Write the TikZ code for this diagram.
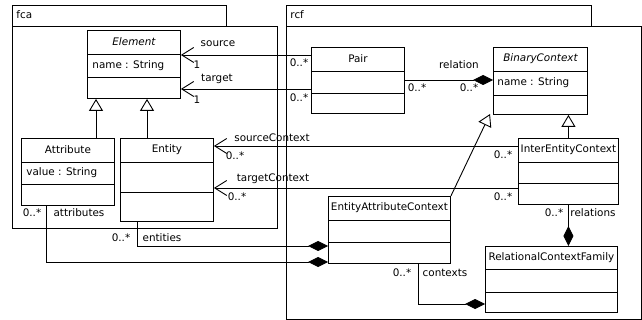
\documentclass[tikz,border=0pt]{standalone}
\usepackage{fontspec}
\setmainfont{DejaVu Sans}
\usetikzlibrary{positioning,calc,arrows.meta}

\tikzset{
  cls/.style={draw, fill=white, anchor=north west, inner sep=0pt},
  ctitle/.style={inner sep=0pt},
  cattr/.style={anchor=west, inner sep=0pt},
  lbl/.style={inner sep=0pt},
  nav/.style={-{Straight Barb[length=12pt,width=15pt]}},
  comp/.style={-{Diamond[length=20pt,width=10pt]}},
  gen/.style={-{Triangle[open,length=12pt,width=14pt,fill=white]}},
}

\begin{document}
\begin{tikzpicture}[x=1pt,y=-1pt,line width=0.9pt,font=\fontsize{10.4}{12}\selectfont]
        \useasboundingbox (0,0) rectangle (642,320);

        % packages
        \draw (12,5) rectangle (226,26);
        \draw (12,26) rectangle (277,228);
        \node[anchor=west, lbl] (fca) at (16,15) {fca};
        \draw (286,5) rectangle (591,26);
        \draw (286,26) rectangle (641,319);
        \node[anchor=west, lbl] (rcf) at (290,15) {rcf};

        % fca classes
        \node[cls, minimum width=93, minimum height=68] (element) at (87,30) {};
        \node[ctitle] at ($(element.north)+(0,12)$) {\itshape Element};
        \node[cattr] at ($(element.north west)+(5,35.5)$) {name : String};
        \draw ($(element.north west)+(0,24)$) -- ++(93,0) ($(element.north west)+(0,47)$) -- ++(93,0);

        \node[cls, minimum width=93, minimum height=67] (attribute) at (21,138) {};
        \node[ctitle] at ($(attribute.north)+(0,12)$) {Attribute};
        \node[cattr] at ($(attribute.north west)+(5,35)$) {value : String};
        \draw ($(attribute.north west)+(0,24)$) -- ++(93,0) ($(attribute.north west)+(0,46)$) -- ++(93,0);

        \node[cls, minimum width=93, minimum height=83] (entity) at (120,138) {};
        \node[ctitle] at ($(entity.north)+(0,12)$) {Entity};
        \draw ($(entity.north west)+(0,24)$) -- ++(93,0) ($(entity.north west)+(0,54)$) -- ++(93,0);

        % rcf classes
        \node[cls, minimum width=93, minimum height=66] (pair) at (311,47) {};
        \node[ctitle] at ($(pair.north)+(0,12)$) {Pair};
        \draw ($(pair.north west)+(0,24)$) -- ++(93,0) ($(pair.north west)+(0,46)$) -- ++(93,0);

        \node[cls, minimum width=94, minimum height=67] (binctx) at (493,47) {};
        \node[ctitle] at ($(binctx.north)+(0,12)$) {\itshape BinaryContext};
        \node[cattr] at ($(binctx.north west)+(4,36)$) {name : String};
        \draw ($(binctx.north west)+(0,24)$) -- ++(94,0) ($(binctx.north west)+(0,48)$) -- ++(94,0);

        \node[cls, minimum width=100, minimum height=66] (interctx) at (518,138) {};
        \node[ctitle] at ($(interctx.north)+(0,12)$) {InterEntityContext};
        \draw ($(interctx.north west)+(0,24)$) -- ++(100,0) ($(interctx.north west)+(0,45)$) -- ++(100,0);

        \node[cls, minimum width=122, minimum height=67] (eactx) at (328,196) {};
        \node[ctitle] at ($(eactx.north)+(0,12)$) {EntityAttributeContext};
        \draw ($(eactx.north west)+(0,24)$) -- ++(122,0) ($(eactx.north west)+(0,46)$) -- ++(122,0);

        \node[cls, minimum width=132, minimum height=66] (relfam) at (485,246) {};
        \node[ctitle] at ($(relfam.north)+(0,12)$) {RelationalContextFamily};
        \draw ($(relfam.north west)+(0,23)$) -- ++(132,0) ($(relfam.north west)+(0,46)$) -- ++(132,0);

        % generalisations
        \draw[gen] (attribute.north -| 96,0) -- (element.south -| 96,0);
        \draw[gen] (entity.north -| 147,0) -- (element.south -| 147,0);
        \draw[gen] (interctx.north) -- (interctx.north |- binctx.south);
        \coordinate (bcgen) at (490,114);
        \draw[gen] (eactx.north east) -- (bcgen);

        % associations
        \draw[nav] (pair.west |- 0,55) -- (element.east |- 0,55);
        \draw[nav] (pair.west |- 0,89) -- (element.east |- 0,89);
        \draw[comp] (pair.east |- 0,80) -- (binctx.west |- 0,80);
        \draw[nav] (interctx.west |- 0,146) -- (entity.east |- 0,146);
        \draw[nav] (interctx.west |- 0,188) -- (entity.east |- 0,188);
        \draw[comp] (interctx.south) -- (interctx.south |- relfam.north);
        \draw[comp] (eactx.south -| 418,0) |- (relfam.west |- 0,304);
        \draw[comp] (entity.south -| 137,0) |- (eactx.west |- 0,246);
        \draw[comp] (attribute.south -| 46,0) |- (eactx.west |- 0,262);

        % role names and multiplicities
        \node[lbl] (srcname) at (218,44) {source};
        \node[lbl] (srcone) at (197,65) {1};
        \node[lbl] (srcmany) at (299,63) {0..*};
        \node[lbl] (tgtname) at (217,79) {target};
        \node[lbl] (tgtone) at (197,100) {1};
        \node[lbl] (tgtmany) at (299,98) {0..*};
        \node[lbl] (relname) at (459,65) {relation};
        \node[lbl] (relpair) at (417,88) {0..*};
        \node[lbl] (relctx) at (469,88) {0..*};
        \node[lbl] (scname) at (272,138) {sourceContext};
        \node[lbl] (scent) at (235,156) {0..*};
        \node[lbl] (scctx) at (503,155) {0..*};
        \node[lbl] (tcname) at (273,179) {targetContext};
        \node[lbl] (tcent) at (237,197) {0..*};
        \node[lbl] (tcctx) at (503,197) {0..*};
        \node[lbl] (relsmany) at (554,213) {0..*};
        \node[lbl] (relsname) at (593,213) {relations};
        \node[lbl] (ctxmany) at (402,273) {0..*};
        \node[lbl] (ctxname) at (445,273) {contexts};
        \node[lbl] (entmany) at (121,238) {0..*};
        \node[lbl] (entname) at (162,238) {entities};
        \node[lbl] (attmany) at (32,213) {0..*};
        \node[lbl] (attname) at (79,213) {attributes};
    \end{tikzpicture}
\end{document}
